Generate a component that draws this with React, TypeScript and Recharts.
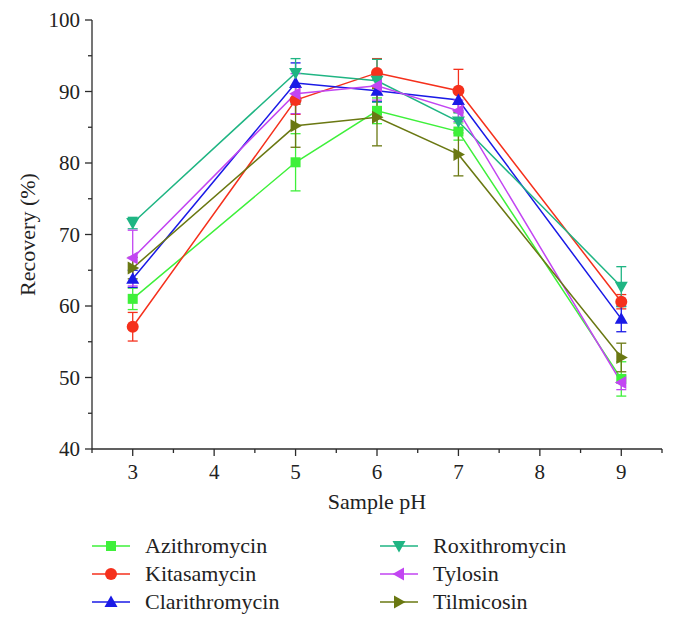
import React from 'react';
import { LineChart, Line, XAxis, YAxis, ErrorBar } from 'recharts';

// sample pH on the x axis
const phValues = [3, 5, 6, 7, 9];

// recovery (%) per antibiotic, with error bar half-lengths
const azithromycin = [61.0, 80.1, 87.3, 84.4, 49.8];
const azithromycinErr = [1.5, 4.0, 1.8, 1.2, 2.4];
const kitasamycin = [57.1, 88.8, 92.6, 90.1, 60.6];
const kitasamycinErr = [2.0, 2.0, 2.0, 3.0, 1.0];
const clarithromycin = [63.8, 91.2, 90.1, 88.8, 58.2];
const clarithromycinErr = [1.2, 2.8, 1.5, 1.5, 1.8];
const roxithromycin = [71.6, 92.6, 91.5, 85.8, 62.7];
const roxithromycinErr = [0.8, 2.0, 3.0, 1.2, 2.8];
const tylosin = [66.7, 89.7, 90.8, 87.3, 49.3];
const tylosinErr = [3.9, 2.8, 2.0, 1.5, 1.0];
const tilmicosin = [65.3, 85.2, 86.4, 81.2, 52.8];
const tilmicosinErr = [1.5, 3.0, 4.0, 3.0, 2.0];

const xTicks = [2.5, 3, 3.5, 4, 4.5, 5, 5.5, 6, 6.5, 7, 7.5, 8, 8.5, 9, 9.5];
const yTicks = [40, 45, 50, 55, 60, 65, 70, 75, 80, 85, 90, 95, 100];

const FONT = "'Liberation Serif', 'Times New Roman', Times, serif";
const AXIS = '#2b2b2b';
const TXT = { fontFamily: FONT, fontSize: 21, fill: '#222' };

type Shape = 'square' | 'circle' | 'up' | 'down' | 'left' | 'right';

const series: { key: string; name: string; color: string; shape: Shape; values: number[]; errors: number[] }[] = [
  { key: 'azi', name: 'Azithromycin', color: '#3ef03a', shape: 'square', values: azithromycin, errors: azithromycinErr },
  { key: 'kit', name: 'Kitasamycin', color: '#f5301c', shape: 'circle', values: kitasamycin, errors: kitasamycinErr },
  { key: 'cla', name: 'Clarithromycin', color: '#1a1ae6', shape: 'up', values: clarithromycin, errors: clarithromycinErr },
  { key: 'rox', name: 'Roxithromycin', color: '#1fb583', shape: 'down', values: roxithromycin, errors: roxithromycinErr },
  { key: 'tyl', name: 'Tylosin', color: '#c245f2', shape: 'left', values: tylosin, errors: tylosinErr },
  { key: 'til', name: 'Tilmicosin', color: '#6a7812', shape: 'right', values: tilmicosin, errors: tilmicosinErr },
];

const rows = phValues.map((ph, i) => {
  const row: Record<string, number> = { ph };
  series.forEach((s) => {
    row[s.key] = s.values[i];
    row[s.key + 'Err'] = s.errors[i];
  });
  return row;
});

const Marker = ({ shape, cx, cy, color }: { shape: Shape; cx: number; cy: number; color: string }) => {
  const a = 6.5;
  const b = 5;
  switch (shape) {
    case 'square':
      return <rect x={cx - 5} y={cy - 5} width={10} height={10} fill={color} />;
    case 'circle':
      return <circle cx={cx} cy={cy} r={6} fill={color} />;
    case 'up':
      return <polygon points={`${cx},${cy - a} ${cx + a},${cy + b} ${cx - a},${cy + b}`} fill={color} />;
    case 'down':
      return <polygon points={`${cx - a},${cy - b} ${cx + a},${cy - b} ${cx},${cy + a}`} fill={color} />;
    case 'left':
      return <polygon points={`${cx - a},${cy} ${cx + b},${cy - a} ${cx + b},${cy + a}`} fill={color} />;
    default:
      return <polygon points={`${cx + a},${cy} ${cx - b},${cy - a} ${cx - b},${cy + a}`} fill={color} />;
  }
};

const XTick = (props: any) => {
  const { x, y, payload } = props;
  const v = payload.value;
  const major = Number.isInteger(v);
  return (
    <g>
      <line x1={x} y1={y} x2={x} y2={y + (major ? 7 : 4)} stroke={AXIS} strokeWidth={1.3} />
      {major && (
        <text x={x} y={y + 30} textAnchor="middle" style={TXT}>
          {v}
        </text>
      )}
    </g>
  );
};

const YTick = (props: any) => {
  const { x, y, payload } = props;
  const v = payload.value;
  const major = v % 10 === 0;
  return (
    <g>
      <line x1={x} y1={y} x2={x - (major ? 7 : 4)} y2={y} stroke={AXIS} strokeWidth={1.3} />
      {major && (
        <text x={x - 12} y={y + 7} textAnchor="end" style={TXT}>
          {v}
        </text>
      )}
    </g>
  );
};

const LegendBlock = () => {
  const cols = [92, 380];
  const rowsY = [546, 574, 602];
  return (
    <svg width={681} height={628} style={{ position: 'absolute', left: 0, top: 0, pointerEvents: 'none' }}>
      {series.map((s, i) => {
        const x0 = cols[Math.floor(i / 3)];
        const y = rowsY[i % 3];
        return (
          <g key={s.key}>
            <line x1={x0} y1={y} x2={x0 + 38} y2={y} stroke={s.color} strokeWidth={1.5} />
            <Marker shape={s.shape} cx={x0 + 19} cy={y} color={s.color} />
            <text x={x0 + 53} y={y + 7} style={{ ...TXT, fontSize: 22 }}>
              {s.name}
            </text>
          </g>
        );
      })}
    </svg>
  );
};

export default function App() {
  return (
    <div style={{ position: 'absolute', left: 0, top: 0, width: 681, height: 628, background: '#fff', fontFamily: FONT }}>
      <LineChart width={681} height={530} data={rows} margin={{ top: 20, right: 19, bottom: 11, left: 0 }}>
        <XAxis
          dataKey="ph"
          type="number"
          domain={[2.5, 9.5]}
          ticks={xTicks}
          interval={0}
          tickSize={0}
          tickMargin={0}
          tickLine={false}
          tick={<XTick />}
          height={70}
          stroke={AXIS}
          strokeWidth={1.3}
          label={{ value: 'Sample pH', position: 'insideBottom', offset: 10, style: { ...TXT, fontSize: 22 } }}
        />
        <YAxis
          type="number"
          domain={[40, 100]}
          ticks={yTicks}
          interval={0}
          tickSize={0}
          tickMargin={0}
          tickLine={false}
          tick={<YTick />}
          width={92}
          stroke={AXIS}
          strokeWidth={1.3}
          label={{
            value: 'Recovery (%)',
            angle: -90,
            position: 'insideLeft',
            offset: 27,
            style: { ...TXT, fontSize: 22, textAnchor: 'middle' },
          }}
        />
        {series.map((s) => (
          <Line
            key={s.key}
            dataKey={s.key}
            name={s.name}
            type="linear"
            stroke={s.color}
            strokeWidth={1.5}
            isAnimationActive={false}
            activeDot={false}
            dot={(p: any) => <Marker key={`${s.key}-${p.index}`} shape={s.shape} cx={p.cx} cy={p.cy} color={s.color} />}
          >
            <ErrorBar dataKey={s.key + 'Err'} width={5} stroke={s.color} strokeWidth={1.3} direction="y" />
          </Line>
        ))}
      </LineChart>
      <LegendBlock />
    </div>
  );
}
